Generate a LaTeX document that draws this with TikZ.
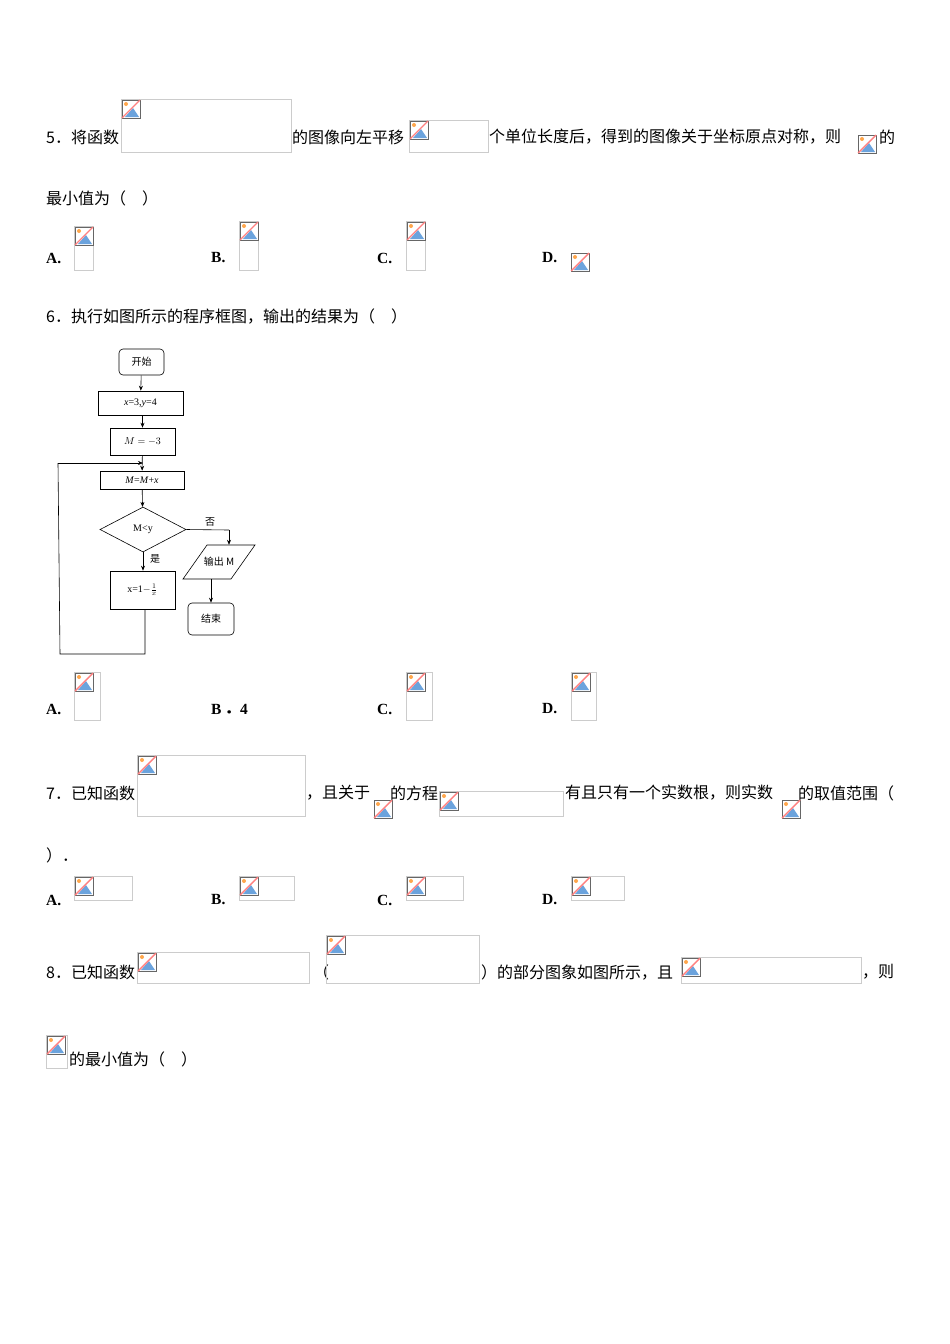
\documentclass[tikz,border=0pt]{standalone}
\usepackage{fontspec}
\setmainfont{Liberation Serif}
\newfontfamily\cjk{Noto Sans CJK SC}
\usetikzlibrary{shapes.geometric,arrows.meta}
\newcommand{\bicon}[2]{%
  \begin{scope}[shift={(#1,#2)}]
    \fill[white] (0,0) rectangle (18,18);
    \fill[orange!70] (4,4) circle (2);
    \fill[cyan!60!blue!60] (3,17) -- (11,8) -- (17,17) -- cycle;
    \draw[gray!80!black,line width=0.8] (0,0) rectangle (18,18);
    \draw[red!50,line width=1.4] (0,18) -- (18,0);
  \end{scope}}
\newcommand{\bimg}[4]{%
  \draw[gray!40,line width=0.6] (#1,#2) rectangle (#3,#4);
  \bicon{#1+1}{#2+1}}
\tikzset{
  x=1pt,y=-1pt,
  txt/.style={anchor=west,inner sep=0,font=\fontsize{16}{17}\selectfont\cjk},
  opt/.style={anchor=west,inner sep=0,font=\fontsize{15.5}{17}\selectfont\bfseries},
  fbox/.style={draw,line width=0.6,inner sep=0,font=\fontsize{10}{11}\selectfont},
  fl/.style={line width=0.6},
  fa/.style={line width=0.6,-{Stealth[length=5pt,width=4pt]}},
  small/.style={inner sep=0,font=\fontsize{10}{11}\selectfont\cjk}
}
\begin{document}
\begin{tikzpicture}
\useasboundingbox (0,0) rectangle (950,1344);
% Q5
\node[txt] (q5a) at (46,137) {5．将函数};
\bimg{121}{99}{291}{152}
\node[txt] (q5b) at (292,137) {的图像向左平移};
\bimg{409}{120}{488}{152}
\node[txt] (q5c) at (489,137) {个单位长度后，得到的图像关于坐标原点对称，则};
\bicon{858}{135}
\node[txt] (q5d) at (879,137) {的};
\node[txt] (q5e) at (46,198) {最小值为（\hspace{1em}）};
\node[opt] (a5) at (46,258) {A.}; \bimg{74}{226}{93}{270}
\node[opt] (b5) at (211,258) {B.}; \bimg{239}{221}{258}{270}
\node[opt] (c5) at (377,258) {C.}; \bimg{406}{221}{425}{270}
\node[opt] (d5) at (542,258) {D.}; \bicon{571}{253}
% Q6
\node[txt] (q6) at (46,317) {6．执行如图所示的程序框图，输出的结果为（\hspace{1em}）};
\node[fbox,rounded corners=4pt,minimum width=45,minimum height=26,font=\fontsize{10}{11}\selectfont\cjk] (st) at (141.5,362) {开始};
\node[fbox,minimum width=85,minimum height=24] (b1) at (140.5,403) {\textit{x}=3,\textit{y}=4};
\node[fbox,minimum width=65,minimum height=27] (b2) at (142.5,441.5) {$M=-3$};
\node[fbox,minimum width=84,minimum height=18] (b3) at (142,480) {\textit{M}=\textit{M}+\textit{x}};
\node[fbox,diamond,aspect=1.9,minimum width=86,minimum height=45] (dm) at (143,529.5) {M<y};
\node[fbox,minimum width=65,minimum height=38] (b4) at (142.5,590) {x=1$-\frac{1}{x}$};
\node[small,minimum width=48,minimum height=34] (out) at (219,562) {输出 M};
\draw[fl] (183,579) -- (207,545) -- (255,545) -- (231,579) -- cycle;
\node[fbox,rounded corners=4pt,minimum width=46,minimum height=32,font=\fontsize{10}{11}\selectfont\cjk] (en) at (211,619) {结束};
\draw[fa] (st) -- (b1);
\draw[fa] (b1.south -| b2.north) -- (b2);
\draw[fa] (b2) -- (b3);
\draw[fa] (b3) -- (dm);
\draw[fa] (dm.south) -- (dm.south |- b4.north);
\node[small] (yes) at (155,559) {是};
\node[small] (no) at (210,522) {否};
\coordinate (l1) at (145,654);
\coordinate (l2) at (60,654);
\coordinate (l3) at (58,463);
\coordinate (l4) at (143,463);
\draw[fl] (b4.south -| l1) -- (l1) -- (l2) -- (l3);
\draw[fa] (l3) -- (l4);
\coordinate (n1) at (229,530);
\draw[fl] (dm.east) -- (n1);
\draw[fa] (n1) -- (n1 |- out.north);
\draw[fa] (out.south -| en.north) -- (en);
\node[opt] (a6) at (46,709) {A.}; \bimg{74}{672}{100}{720}
\node[opt] (b6) at (211,709) {B\hspace{0.2em}{\cjk\bfseries．}4};
\node[opt] (c6) at (377,709) {C.}; \bimg{406}{672}{432}{720}
\node[opt] (d6) at (542,709) {D.}; \bimg{571}{672}{596}{720}
% Q7
\node[txt] (q7a) at (46,793) {7．已知函数};
\bimg{137}{755}{305}{816}
\node[txt] (q7b) at (306,793) {，且关于};
\bicon{374}{800}
\node[txt] (q7c) at (390,793) {的方程};
\bimg{439}{791}{563}{816}
\node[txt] (q7d) at (565,793) {有且只有一个实数根，则实数};
\bicon{782}{800}
\node[txt] (q7e) at (798,793) {的取值范围（};
\node[txt] (q7f) at (46,855) {）．};
\node[opt] (a7) at (46,900) {A.}; \bimg{74}{876}{132}{900}
\node[opt] (b7) at (211,900) {B.}; \bimg{239}{876}{294}{900}
\node[opt] (c7) at (377,900) {C.}; \bimg{406}{876}{463}{900}
\node[opt] (d7) at (542,900) {D.}; \bimg{571}{876}{624}{900}
% Q8
\node[txt] (q8a) at (46,972) {8．已知函数};
\bimg{137}{952}{309}{983}
\node[txt] (q8b) at (313,972) {（};
\bimg{326}{935}{479}{983}
\node[txt] (q8c) at (481,972) {）的部分图象如图所示，且};
\bimg{681}{957}{861}{983}
\node[txt] (q8d) at (862,972) {，则};
\bimg{46}{1035}{67}{1068}
\node[txt] (q8e) at (69,1059) {的最小值为（\hspace{1em}）};
\end{tikzpicture}
\end{document}
